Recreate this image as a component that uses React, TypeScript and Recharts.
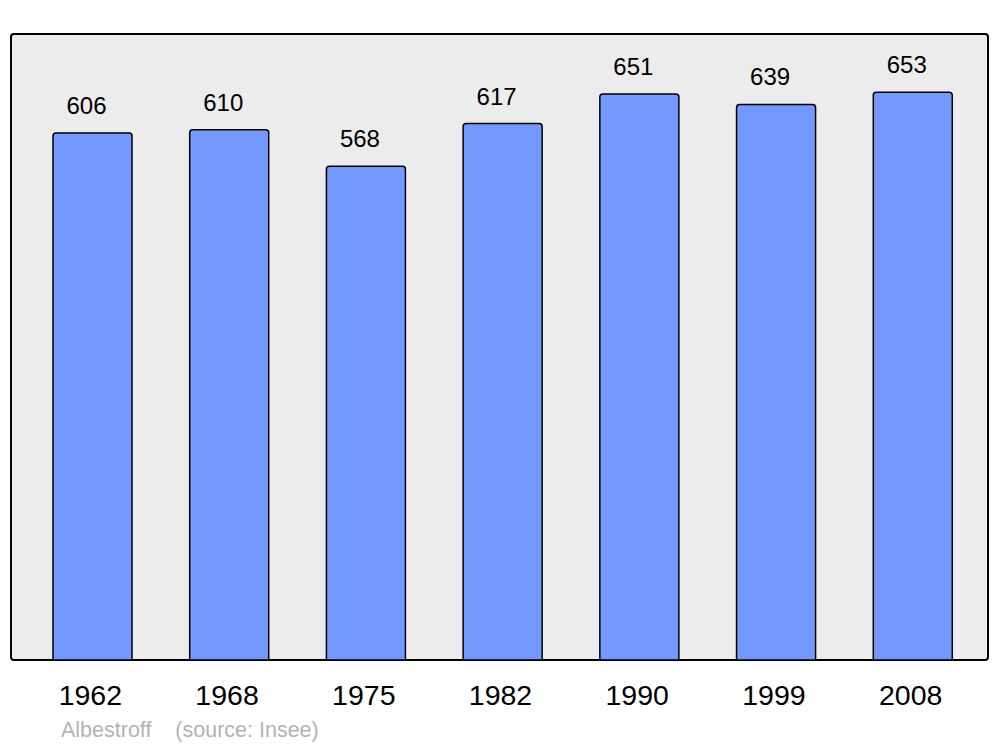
import { Bar, BarChart, LabelList, XAxis, YAxis } from "recharts";

const years = ["1962", "1968", "1975", "1982", "1990", "1999", "2008"];
const population = [606, 610, 568, 617, 651, 639, 653];

const data = years.map((year, i) => ({ year, population: population[i] }));

function YearTick(props: any) {
  const { x, y, payload } = props;
  return (
    <text
      x={x - 2}
      y={y}
      dy={37}
      textAnchor="middle"
      fontSize={28.5}
      fill="#000"
      fontFamily="Liberation Sans, Arial, sans-serif"
    >
      {payload.value}
    </text>
  );
}

function ValueLabel(props: any) {
  const { x, y, width, value } = props;
  return (
    <text
      x={x + width / 2 - 6}
      y={y - 19}
      textAnchor="middle"
      fontSize={24}
      fill="#000"
      fontFamily="Liberation Sans, Arial, sans-serif"
    >
      {value}
    </text>
  );
}

export default function App() {
  return (
    <div
      style={{
        position: "absolute",
        left: 0,
        top: 0,
        width: 1000,
        height: 747,
        background: "#fff",
        fontFamily: "Liberation Sans, Arial, sans-serif",
      }}
    >
      <div
        style={{
          position: "absolute",
          left: 10,
          top: 33,
          width: 975,
          height: 624,
          background: "#ececec",
          border: "2.5px solid #000",
          borderRadius: 4,
        }}
      />
      <div style={{ position: "absolute", left: 0, top: 0 }}>
        <BarChart
          width={1000}
          height={747}
          data={data}
          margin={{ top: 34, right: 11, bottom: 37, left: 11 }}
          barSize={79}
        >
          <XAxis
            dataKey="year"
            axisLine={false}
            tickLine={false}
            height={50}
            padding={{ left: 13, right: 8 }}
            tick={<YearTick />}
            interval={0}
          />
          <YAxis hide domain={[0, 720]} />
          <Bar
            dataKey="population"
            fill="#7399ff"
            stroke="#000"
            strokeWidth={1.5}
            radius={[3, 3, 0, 0]}
            isAnimationActive={false}
          >
            <LabelList dataKey="population" content={<ValueLabel />} />
          </Bar>
        </BarChart>
      </div>
      <div
        style={{
          position: "absolute",
          left: 61,
          top: 718,
          fontSize: 21.5,
          color: "#b3b3b3",
          whiteSpace: "pre",
        }}
      >
        {"Albestroff    (source: Insee)"}
      </div>
    </div>
  );
}
